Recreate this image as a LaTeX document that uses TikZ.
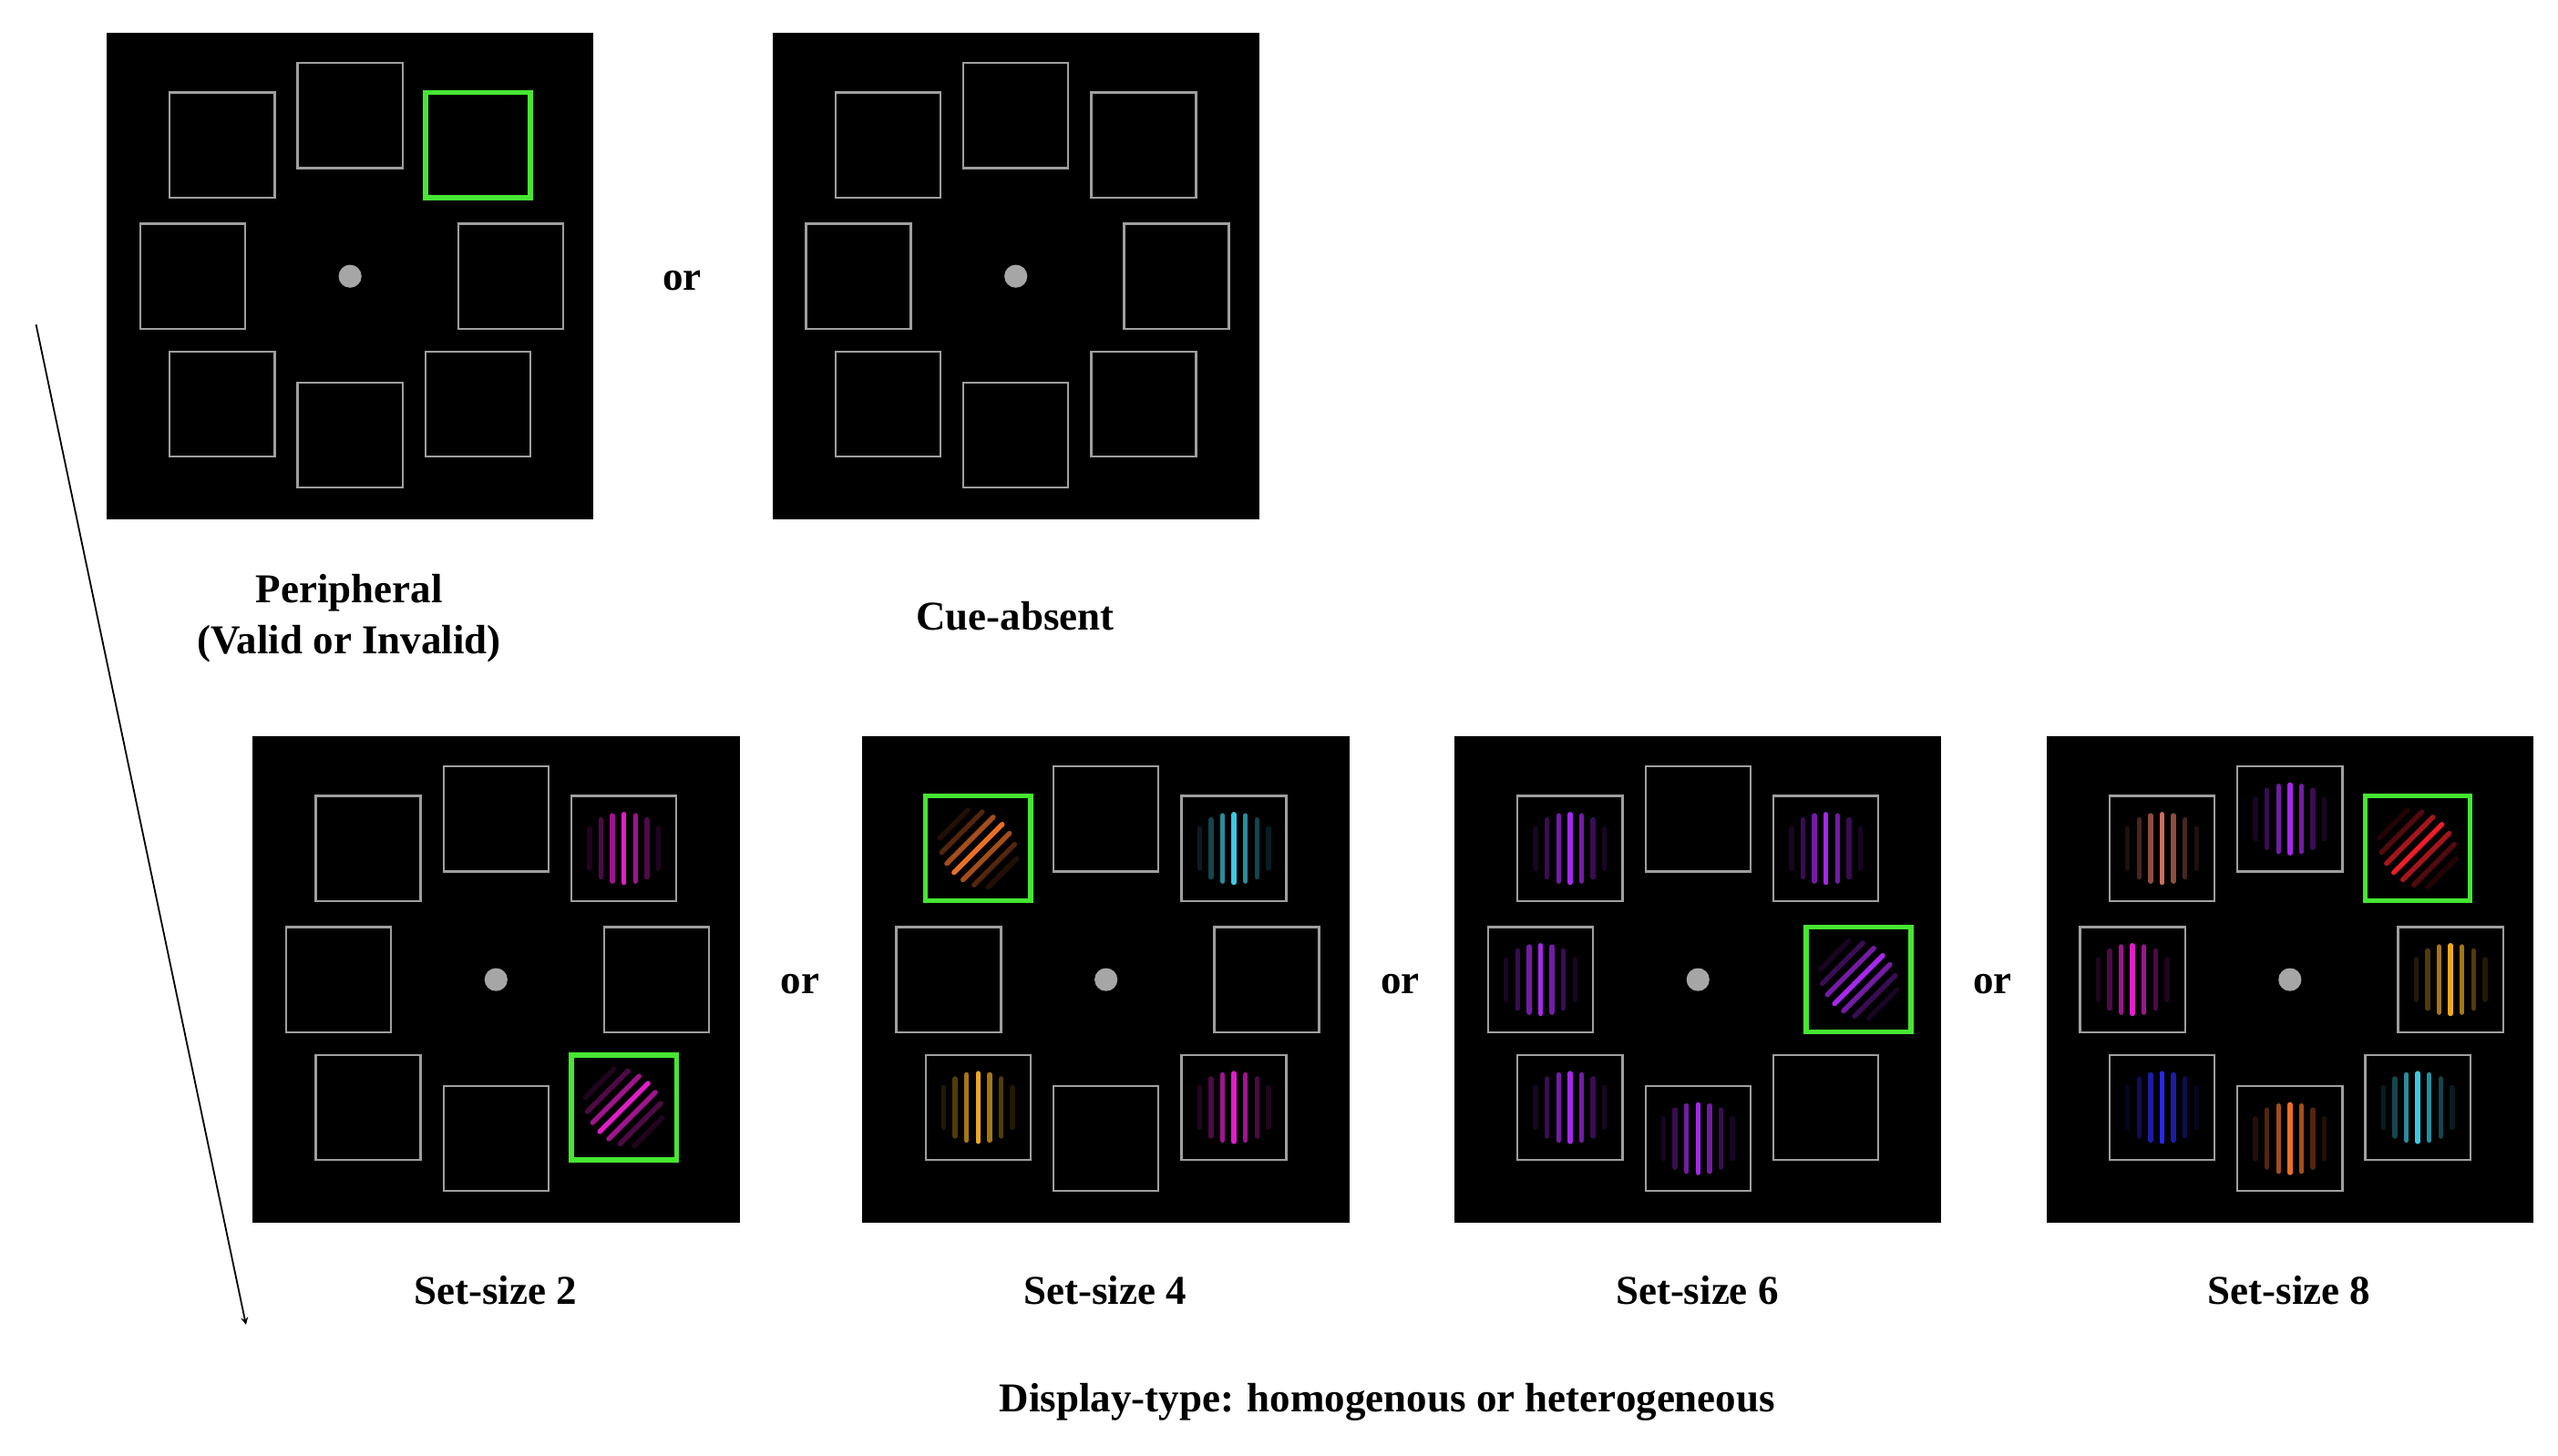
\documentclass[tikz,border=0pt]{standalone}
\usepackage{fontspec}
\setmainfont{Liberation Serif}
\definecolor{cmag}{RGB}{225,30,200}
\definecolor{cora}{RGB}{235,110,40}
\definecolor{ccya}{RGB}{60,200,225}
\definecolor{cyel}{RGB}{235,170,30}
\definecolor{cpur}{RGB}{165,40,235}
\definecolor{csal}{RGB}{205,110,90}
\definecolor{cred}{RGB}{235,30,40}
\definecolor{cblu}{RGB}{40,40,235}
\definecolor{cgrn}{RGB}{70,230,50}
\tikzset{
 panel/.style={fill=black,draw=none,minimum size=297pt,inner sep=0pt},
 ph/.style={draw=gray!75,line width=1.3pt,minimum size=64pt,inner sep=0pt},
 cue/.style={draw=cgrn,line width=3pt,minimum size=64pt,inner sep=0pt},
 lab/.style={font=\bfseries\fontsize{25}{31}\selectfont,align=center},
}
\newcommand\gab[4]{\begin{scope}[shift={(#1,#2)},rotate=#4]
\foreach \d/\o in {-21/0.15,-14/0.35,-7/0.7,0/1,7/0.7,14/0.35,21/0.15}{\pgfmathsetmacro\h{sqrt(26*26-\d*\d)*0.8}
\draw[#3,line width=3pt,opacity=\o,line cap=round] (\d,-\h)--(\d,\h);}
\end{scope}}
\newcommand\ring[3]{% cx cy name
\node[panel] (#3) at (#1,#2) {};
\begin{scope}[shift={(#1,#2)}]
\foreach \x/\y/\n in {0/-98/t,-78/-80/tl,78/-80/tr,-96/0/l,98/0/r,-78/78/bl,0/97/b,78/78/br}
 {\node[ph] (#3\n) at (\x,\y) {};}
\fill[gray!70] (0,0) circle (7);
\end{scope}}
\begin{document}
\begin{tikzpicture}[x=1pt,y=-1pt]
\useasboundingbox (0,0) rectangle (1560,888);
\ring{213.5}{168.5}{pa}
\node[cue] at (patr) {};
\ring{619.5}{168.5}{pb}
\node[lab] at (416,171) {or};
\node[lab] at (213,377) {Peripheral\\(Valid or Invalid)};
\node[lab] at (619,376) {Cue-absent};
% set-size 2
\ring{302.5}{597.5}{sa}
\gab{380.5}{517.5}{cmag}{0}
\gab{380.5}{675.5}{cmag}{-45}
\node[cue] at (sabr) {};
% set-size 4
\ring{674.5}{597.5}{sb}
\gab{596.5}{517.5}{cora}{-45}
\node[cue] at (sbtl) {};
\gab{752.5}{517.5}{ccya}{0}
\gab{596.5}{675.5}{cyel}{0}
\gab{752.5}{675.5}{cmag}{0}
% set-size 6
\ring{1035.5}{597.5}{sc}
\gab{957.5}{517.5}{cpur}{0}
\gab{1113.5}{517.5}{cpur}{0}
\gab{939.5}{597.5}{cpur}{0}
\gab{1133.5}{597.5}{cpur}{-45}
\node[cue] at (scr) {};
\gab{957.5}{675.5}{cpur}{0}
\gab{1035.5}{694.5}{cpur}{0}
% set-size 8
\ring{1396.5}{597.5}{sd}
\gab{1318.5}{517.5}{csal}{0}
\gab{1396.5}{499.5}{cpur}{0}
\gab{1474.5}{517.5}{cred}{-45}
\node[cue] at (sdtr) {};
\gab{1300.5}{597.5}{cmag}{0}
\gab{1494.5}{597.5}{cyel}{0}
\gab{1318.5}{675.5}{cblu}{0}
\gab{1396.5}{694.5}{cora}{0}
\gab{1474.5}{675.5}{ccya}{0}
\node[lab] at (488,600) {or};
\node[lab] at (854,600) {or};
\node[lab] at (1215,600) {or};
\node[lab] at (302,787) {Set-size 2};
\node[lab] at (674,787) {Set-size 4};
\node[lab] at (1035,787) {Set-size 6};
\node[lab] at (1396,787) {Set-size 8};
\node[lab] at (846,855) {Display-type: homogenous or heterogeneous};
\coordinate (a0) at (22,198);
\coordinate (a1) at (150,808);
\draw[-stealth,line width=1pt] (a0) -- (a1);
\end{tikzpicture}
\end{document}
